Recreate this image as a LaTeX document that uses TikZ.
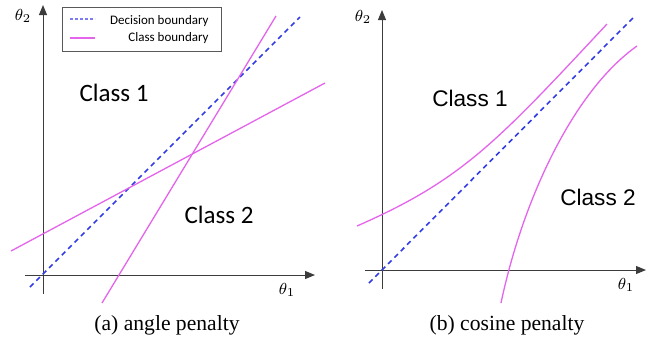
\documentclass[tikz,border=0pt]{standalone}
\usepackage{fontspec}
\setmainfont{Liberation Serif}
\newfontfamily\calibrifont{Carlito}
\newfontfamily\arialfont{Liberation Sans}
\usetikzlibrary{arrows.meta}

\definecolor{classmag}{RGB}{228,100,235}
\definecolor{decblue}{RGB}{50,62,228}
\definecolor{legblue}{RGB}{125,125,240}
\definecolor{axisgray}{RGB}{60,60,60}

\tikzset{
  axis/.style={axisgray, line width=0.5pt, -{Triangle[length=5pt,width=4pt]}},
  decision/.style={decblue, line width=0.8pt, dash pattern=on 2.5pt off 2pt},
  classline/.style={classmag, line width=0.65pt},
  axlabel/.style={inner sep=0pt, font=\fontsize{8.5}{10}\selectfont},
  caption/.style={inner sep=0pt, anchor=base, font=\fontsize{10.8}{12}\selectfont}
}

\begin{document}
\begin{tikzpicture}[x=0.5pt, y=-0.5pt]
    \useasboundingbox (0,0) rectangle (660,344);

    % 1. Linkes Bild: angle penalty
    \coordinate (Ay0) at (43,294);
    \coordinate (Ay1) at (43,5);
    \coordinate (Ax0) at (25,275);
    \coordinate (Ax1) at (315,275);
    \draw[axis] (Ay0) -- (Ay1);
    \draw[axis] (Ax0) -- (Ax1);
    \node[axlabel] (At2) at (23,16) {$\theta_2$};
    \node[axlabel] (At1) at (287,290) {$\theta_1$};

    % Entscheidungsgrenze und Klassengrenzen (Geraden)
    \coordinate (Ad0) at (30,287);
    \coordinate (Ad1) at (300,17);
    \coordinate (As0) at (102,303);
    \coordinate (As1) at (276,16);
    \coordinate (Af0) at (11,251);
    \coordinate (Af1) at (325,83);
    \draw[decision] (Ad0) -- (Ad1);
    \draw[classline] (As0) -- (As1);
    \draw[classline] (Af0) -- (Af1);

    \node[inner sep=0pt, font=\calibrifont\fontsize{12.5}{14}\selectfont] (Ac1) at (114,93) {Class 1};
    \node[inner sep=0pt, font=\calibrifont\fontsize{12.5}{14}\selectfont] (Ac2) at (219,215) {Class 2};

    % Legende
    \draw[gray!70!black, line width=0.5pt, fill=white] (62,7) rectangle (221,51);
    \coordinate (Ld0) at (70,19);
    \coordinate (Ld1) at (95,19);
    \coordinate (Lc0) at (70,38);
    \coordinate (Lc1) at (95,38);
    \draw[legblue, line width=0.6pt, dash pattern=on 1.6pt off 0.9pt] (Ld0) -- (Ld1);
    \draw[classmag, line width=0.6pt] (Lc0) -- (Lc1);
    \node[inner sep=0pt, anchor=east, font=\calibrifont\fontsize{6.5}{8}\selectfont] (Ltd) at (209,21) {Decision boundary};
    \node[inner sep=0pt, anchor=east, font=\calibrifont\fontsize{6.5}{8}\selectfont] (Ltc) at (209,38) {Class boundary};

    \node[caption] (Acap) at (167,330) {(a) angle penalty};

    % 2. Rechtes Bild: cosine penalty
    \coordinate (By0) at (382,289);
    \coordinate (By1) at (382,10);
    \coordinate (Bx0) at (365,270);
    \coordinate (Bx1) at (646,270);
    \draw[axis] (By0) -- (By1);
    \draw[axis] (Bx0) -- (Bx1);
    \node[axlabel] (Bt2) at (363,17) {$\theta_2$};
    \node[axlabel] (Bt1) at (626,285) {$\theta_1$};

    \coordinate (Bd0) at (369,283);
    \coordinate (Bd1) at (633,18);
    \draw[decision] (Bd0) -- (Bd1);

    % Klassengrenzen (gekruemmt)
    \coordinate (Bu0) at (357,226);
    \coordinate (Bu1) at (607,24);
    \coordinate (Bl0) at (501,303);
    \coordinate (Bl1) at (637,46);
    \draw[classline] (Bu0) .. controls (462,180) and (497,142) .. (Bu1);
    \draw[classline] (Bl0) .. controls (522,203) and (572,92) .. (Bl1);

    \node[inner sep=0pt, font=\arialfont\fontsize{11.3}{13}\selectfont] (Bc1) at (470,98) {Class 1};
    \node[inner sep=0pt, font=\arialfont\fontsize{11.3}{13}\selectfont] (Bc2) at (598,197) {Class 2};

    \node[caption] (Bcap) at (507,330) {(b) cosine penalty};

\end{tikzpicture}
\end{document}
